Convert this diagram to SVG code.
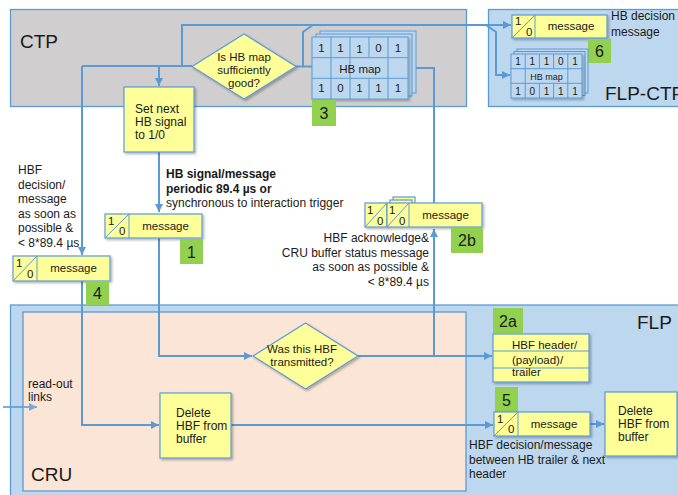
<svg xmlns="http://www.w3.org/2000/svg" width="678" height="495" viewBox="0 0 678 495">
<defs>
<style>
.t{font-family:"Liberation Sans",Arial,Helvetica,sans-serif;fill:#1a1a1a}
.conn{fill:none;stroke:#5b9bd5;stroke-width:2}
.box{fill:#ffff99;stroke:#5b9bd5;stroke-width:1.2}
.map{fill:#bdd7ee;stroke:#5b9bd5;stroke-width:1}
.grid{fill:none;stroke:#5b9bd5;stroke-width:1}
.tag{fill:#92d050}
.diag{stroke:#5b9bd5;stroke-width:1}
.frame{stroke:#5b9bd5;stroke-width:1.3}
.big{font-size:19px}
.n{font-size:12px}
.s{font-size:11.5px}
.num{font-size:16px;text-anchor:middle}
.mid{text-anchor:middle}
</style>
<marker id="ah" markerUnits="userSpaceOnUse" markerWidth="9" markerHeight="9" refX="8" refY="4" orient="auto">
<path d="M0,0 L8,4 L0,8 z" fill="#5b9bd5"/>
</marker>
<filter id="sh" x="-10%" y="-10%" width="130%" height="130%">
<feDropShadow dx="1.5" dy="1.5" stdDeviation="1" flood-color="#000" flood-opacity="0.3"/>
</filter>
</defs>

<!-- regions -->
<g id="region-ctp">
<rect class="frame" x="10.5" y="9.5" width="456" height="97" fill="#d0cece"/>
<text class="t big" x="20" y="48">CTP</text>
</g>
<g id="region-flp-ctp">
<rect class="frame" x="488.5" y="9.5" width="200" height="97" fill="#bdd7ee"/>
<text class="t big" x="605" y="100">FLP-CTP</text>
</g>
<g id="region-flp">
<rect class="frame" x="10.5" y="305" width="680" height="200" fill="#bdd7ee"/>
<text class="t big" x="637" y="329">FLP</text>
</g>
<g id="region-cru">
<rect class="frame" x="23" y="312" width="443" height="179" fill="#fbe5d6"/>
<text class="t big" x="31" y="481">CRU</text>
</g>

<!-- connectors -->
<g id="connectors">
<path class="conn" d="M82,66 H192"/>
<path class="conn" d="M182,66 V25 H511" marker-end="url(#ah)"/>
<path class="conn" d="M159,66 V86" marker-end="url(#ah)"/>
<path class="conn" d="M82,66 V255" marker-end="url(#ah)"/>
<path class="conn" d="M82,281 V425 H159" marker-end="url(#ah)"/>
<path class="conn" d="M296,66.5 H312"/>
<path class="conn" d="M303,66.5 V32 L313,25"/>
<path class="conn" d="M409,68 H434 V204"/>
<path class="conn" d="M434,356 V229" marker-end="url(#ah)"/>
<path class="conn" d="M486,25 L496,32 V75 H510" marker-end="url(#ah)"/>
<path class="conn" d="M159,152 V212" marker-end="url(#ah)"/>
<path class="conn" d="M159,238 V356 H252" marker-end="url(#ah)"/>
<path class="conn" d="M358,356 H492" marker-end="url(#ah)"/>
<path class="conn" d="M231,425 H493" marker-end="url(#ah)"/>
<path class="conn" d="M590,424 H604" marker-end="url(#ah)"/>
<path class="conn" d="M3,407 H37" marker-end="url(#ah)" opacity="0.8"/>
</g>

<!-- CTP nodes -->
<g id="node-is-hb-map-good">
<polygon class="box" points="192,66.5 244,34 296,66.5 244,99" filter="url(#sh)"/>
<text class="t s mid" x="244" y="61">Is HB map</text>
<text class="t s mid" x="244" y="74">sufficiently</text>
<text class="t s mid" x="244" y="87">good?</text>
</g>

<g id="node-hb-map-ctp">
<rect class="map" x="320" y="31" width="96" height="62"/>
<rect class="map" x="316" y="34" width="96" height="62"/>
<rect class="map" x="312" y="37" width="96" height="62" filter="url(#sh)"/>
<path class="grid" d="M312,57.7 H408 M312,78.3 H408 M331,37 V99 M350,37 V99 M369,37 V57.7 M369,78.3 V99 M388,37 V99"/>
<text class="t s mid" x="321.5" y="51.5">1</text>
<text class="t s mid" x="340.5" y="51.5">1</text>
<text class="t s mid" x="359.5" y="52.5">1</text>
<text class="t s mid" x="378.5" y="51.5">0</text>
<text class="t s mid" x="398" y="51.5">1</text>
<text class="t s mid" x="360" y="73">HB map</text>
<text class="t s mid" x="321.5" y="92">1</text>
<text class="t s mid" x="340.5" y="92">0</text>
<text class="t s mid" x="359.5" y="92">1</text>
<text class="t s mid" x="378.5" y="92">1</text>
<text class="t s mid" x="398" y="92">1</text>
</g>
<g id="tag-3">
<rect class="tag" x="312" y="100" width="24" height="26"/>
<text class="t num" x="324" y="119">3</text>
</g>

<g id="node-set-next">
<rect class="box" x="124" y="87" width="70" height="65" filter="url(#sh)"/>
<text class="t n" x="135" y="113">Set next</text>
<text class="t n" x="135" y="126">HB signal</text>
<text class="t n" x="135" y="139">to 1/0</text>
</g>

<!-- FLP-CTP nodes -->
<g id="node-message-6">
<rect class="box" x="512" y="15" width="95" height="23" filter="url(#sh)"/>
<line class="diag" x1="535" y1="15" x2="535" y2="38"/>
<line class="diag" x1="512" y1="38" x2="535" y2="15"/>
<text class="t s" x="515" y="25">1</text>
<text class="t s" x="526" y="36">0</text>
<text class="t s mid" x="571" y="30">message</text>
</g>
<g id="label-hb-decision">
<text class="t n" x="611" y="20">HB decision</text>
<text class="t n" x="611" y="36">message</text>
</g>
<g id="tag-6">
<rect class="tag" x="588" y="39" width="23" height="24"/>
<text class="t num" x="599.5" y="57">6</text>
</g>
<g id="node-hb-map-flp-ctp">
<rect class="map" x="517" y="49" width="71" height="44"/>
<rect class="map" x="514" y="51.5" width="71" height="44"/>
<rect class="map" x="511" y="54" width="71" height="44" filter="url(#sh)"/>
<path class="grid" d="M511,68.7 H582 M511,83.3 H582 M525.2,54 V98 M539.4,54 V68.7 M539.4,83.3 V98 M553.6,54 V68.7 M553.6,83.3 V98 M567.8,54 V98"/>
<text class="t mid" font-size="10" x="518" y="65">1</text>
<text class="t mid" font-size="10" x="532.3" y="65">1</text>
<text class="t mid" font-size="10" x="546.5" y="65">1</text>
<text class="t mid" font-size="10" x="560.7" y="65">0</text>
<text class="t mid" font-size="10" x="575" y="65">1</text>
<text class="t mid" font-size="9" x="546.5" y="79.5">HB map</text>
<text class="t mid" font-size="10" x="518" y="94.5">1</text>
<text class="t mid" font-size="10" x="532.3" y="94.5">0</text>
<text class="t mid" font-size="10" x="546.5" y="95">1</text>
<text class="t mid" font-size="10" x="560.7" y="95">1</text>
<text class="t mid" font-size="10" x="575" y="94.5">1</text>
</g>

<!-- middle -->
<g id="label-hb-signal">
<text class="t n" x="166" y="178" font-weight="bold">HB signal/message</text>
<text class="t n" x="166" y="193" font-weight="bold">periodic 89.4 µs or</text>
<text class="t n" x="166" y="207">synchronous to interaction trigger</text>
</g>

<g id="node-message-1">
<rect class="box" x="105" y="214" width="97" height="24" stroke-width="2.5" filter="url(#sh)"/>
<line class="diag" x1="129" y1="214" x2="129" y2="238"/>
<line class="diag" x1="105" y1="238" x2="129" y2="214"/>
<text class="t s" x="108" y="225">1</text>
<text class="t s" x="119" y="235">0</text>
<text class="t s mid" x="165.5" y="230">message</text>
</g>
<g id="tag-1">
<rect class="tag" x="180" y="239" width="23" height="25"/>
<text class="t num" x="191.5" y="257.5">1</text>
</g>

<g id="label-hbf-decision-left">
<text class="t n" x="18" y="174">HBF</text>
<text class="t n" x="18" y="188.6">decision/</text>
<text class="t n" x="18" y="203.2">message</text>
<text class="t n" x="18" y="217.8">as soon as</text>
<text class="t n" x="18" y="232.4">possible &amp;</text>
<text class="t n" x="18" y="247">&lt; 8*89.4 µs</text>
</g>

<g id="node-message-4">
<rect class="box" x="13" y="256" width="97" height="25" filter="url(#sh)"/>
<line class="diag" x1="37" y1="256" x2="37" y2="281"/>
<line class="diag" x1="13" y1="281" x2="37" y2="256"/>
<text class="t s" x="16" y="267">1</text>
<text class="t s" x="27" y="278">0</text>
<text class="t s mid" x="73.5" y="272">message</text>
</g>
<g id="tag-4">
<rect class="tag" x="86" y="281" width="23" height="24"/>
<text class="t num" x="97.5" y="299">4</text>
</g>

<g id="node-message-2b">
<rect class="box" x="393" y="197" width="22" height="24"/>
<rect class="box" x="390" y="200" width="22" height="24"/>
<rect class="box" x="365" y="203" width="22" height="24" filter="url(#sh)"/>
<line class="diag" x1="365" y1="227" x2="387" y2="203"/>
<text class="t s" x="367" y="214">1</text>
<text class="t s" x="377" y="225">0</text>
<rect class="box" x="387" y="203" width="95" height="24" filter="url(#sh)"/>
<line class="diag" x1="409" y1="203" x2="409" y2="227"/>
<line class="diag" x1="387" y1="227" x2="409" y2="203"/>
<text class="t s" x="389" y="214">1</text>
<text class="t s" x="399" y="225">0</text>
<text class="t s mid" x="445.5" y="219">message</text>
</g>
<g id="tag-2b">
<rect class="tag" x="451" y="228" width="32" height="25"/>
<text class="t num" x="467" y="246">2b</text>
</g>
<g id="label-hbf-ack">
<text class="t n" x="429" y="242" text-anchor="end">HBF acknowledge&amp;</text>
<text class="t n" x="429" y="256.5" text-anchor="end">CRU buffer status message</text>
<text class="t n" x="429" y="271" text-anchor="end">as soon as possible &amp;</text>
<text class="t n" x="429" y="285.5" text-anchor="end">&lt; 8*89.4 µs</text>
</g>

<!-- CRU / FLP nodes -->
<g id="label-read-out">
<text class="t n" x="28" y="388">read-out</text>
<text class="t n" x="28" y="401">links</text>
</g>

<g id="node-was-transmitted">
<polygon class="box" points="253,356 305.5,323 358,356 305.5,389" filter="url(#sh)"/>
<text class="t s mid" x="302" y="353">Was this HBF</text>
<text class="t s mid" x="302" y="366">transmitted?</text>
</g>

<g id="node-delete-cru">
<rect class="box" x="160" y="393" width="71" height="65" filter="url(#sh)"/>
<text class="t n" x="176" y="417">Delete</text>
<text class="t n" x="176" y="430">HBF from</text>
<text class="t n" x="176" y="443">buffer</text>
</g>

<g id="tag-2a">
<rect class="tag" x="493" y="308" width="30" height="25"/>
<text class="t num" x="508" y="327">2a</text>
</g>
<g id="node-hbf-header">
<rect class="box" x="493" y="334" width="96" height="48" filter="url(#sh)"/>
<line class="diag" x1="493" y1="351" x2="589" y2="351"/>
<line class="diag" x1="493" y1="368" x2="589" y2="368"/>
<text class="t s" x="512" y="349">HBF header/</text>
<text class="t s" x="512" y="364">(payload)/</text>
<text class="t s" x="512" y="376">trailer</text>
</g>

<g id="tag-5">
<rect class="tag" x="495" y="387" width="23" height="25"/>
<text class="t num" x="506.5" y="405.5">5</text>
</g>
<g id="node-message-5">
<rect class="box" x="494" y="412" width="96" height="24" filter="url(#sh)"/>
<line class="diag" x1="518" y1="412" x2="518" y2="436"/>
<line class="diag" x1="494" y1="436" x2="518" y2="412"/>
<text class="t s" x="497" y="423">1</text>
<text class="t s" x="508" y="433">0</text>
<text class="t s mid" x="554" y="428">message</text>
</g>
<g id="label-hbf-decision-5">
<text class="t n" x="469" y="449">HBF decision/message</text>
<text class="t n" x="469" y="463.5">between HB trailer &amp; next</text>
<text class="t n" x="469" y="478">header</text>
</g>

<g id="node-delete-flp">
<rect class="box" x="605" y="392" width="72" height="64" filter="url(#sh)"/>
<text class="t n" x="618" y="415">Delete</text>
<text class="t n" x="618" y="428">HBF from</text>
<text class="t n" x="618" y="441">buffer</text>
</g>
</svg>
